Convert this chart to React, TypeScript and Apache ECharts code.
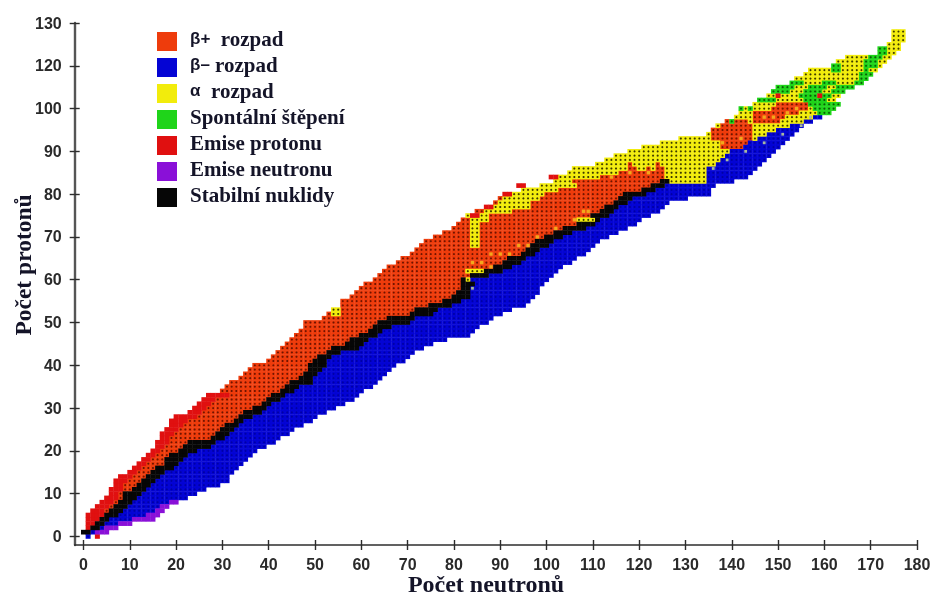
import React, { useEffect, useRef } from "react";
import * as echarts from "echarts";

// Row tables are indexed by the vertical axis position (proton row 0..118).
const rowFirstN = [1,0,1,1,1,1,2,3,4,5,6,6,7,7,8,10,11,12,13,14,15,16,16,17,17,18,19,19,20,23,24,25,26,27,30,31,32,34,35,36,37,40,41,42,43,44,45,46,47,48,48,52,53,54,56,56,58,59,60,61,63,64,65,66,68,69,71,72,73,74,76,78,80,81,82,83,85,87,89,90,92,95,99,102,103,105,106,111,113,115,118,121,125,129,135,136,137,139,141,142,143,145,147,148,150,151,153,154,156,157,162,163,165,172,173,174,175,175,175];
const rowLastN = [1,5,7,10,15,16,17,18,20,22,24,26,29,31,31,32,33,34,35,36,37,39,41,42,44,45,47,49,50,52,54,56,58,59,60,62,63,64,65,66,67,69,70,71,73,75,78,83,84,85,87,88,90,92,95,96,97,98,98,99,100,101,102,103,105,106,108,109,110,111,113,115,117,119,120,122,124,125,126,130,135,135,136,140,143,144,145,146,147,148,149,150,151,152,153,154,155,157,159,160,161,161,162,163,164,166,167,169,170,171,172,173,174,175,176,176,177,177,177];
const stableFirstN = [0,0,1,3,4,5,6,7,8,9,9,11,12,13,14,15,16,18,18,19,21,22,23,28,29,30,31,33,34,35,37,39,40,41,43,44,45,47,48,49,49,50,51,53,54,57,58,60,62,63,64,66,71,72,75,78,80,81,82,82,82,84,87,89,91,92,95,96,97,98,100,102,104,107,109,110,112,113,115,116,117,121,123,125];
const stableLastN = [0,1,3,4,5,7,8,9,10,11,12,13,14,15,16,17,19,20,21,22,24,27,28,30,31,32,33,34,36,38,39,40,42,43,45,46,49,49,50,51,52,52,53,55,59,60,61,63,64,66,70,71,75,76,79,81,83,83,83,84,83,87,90,92,94,95,97,98,100,101,103,105,108,110,111,113,114,115,117,118,121,123,125,126];
// rows 83..98: first column of the neutron-rich block above the stable line
const betaMinusFirstN = [135,135,135,135,137,138,139,140,143,144,146,148,150,153,156,158];

type Seg = [number, number, number]; // row, first N, last N
const alphaSegs: Seg[] = [
  [52,54,55],[53,54,55],[60,83,83],[62,83,86],[68,84,85],[69,84,85],[70,84,85],[71,84,85],[72,84,85],[73,84,85],[74,84,87],
  [75,83,87],[76,87,92],[77,88,96],[78,90,96],[79,91,98],[80,93,99],[81,95,102],[82,99,106],[83,102,105],[74,107,110],
];
const betaPlusSegs: Seg[] = [
  [84,112,125],[85,116,125],[86,118,119],[86,122,122],[86,124,125],[87,118,118],[87,124,124],
  [91,138,142],[92,138,143],[93,136,144],[94,136,144],[95,136,144],[96,138,144],[97,139,143],
  [97,145,150],[98,145,151],[99,145,154],[100,149,156],[101,150,156],
];
const protonSegs: Seg[] = [
  [0,3,3],[75,84,85],[77,87,88],[80,91,92],[82,94,95],[84,101,102],[103,150,150],[103,159,159],
  [2,1,1],[3,1,2],[4,1,3],[5,1,4],[6,2,4],[7,3,5],[8,4,6],[9,5,7],[10,6,7],[11,6,8],[12,7,8],[13,7,9],[14,8,10],[15,10,11],[16,11,12],[17,12,13],[18,13,14],[19,14,15],[20,15,16],[21,16,17],[22,16,18],[23,17,18],[24,17,19],[25,18,20],[26,19,21],[27,19,22],[28,20,24],[29,23,25],[30,24,26],[31,25,27],[32,26,28],[33,27,31],
];
const fissionSegs: Seg[] = [
  [97,140,140],[100,142,142],[100,144,144],[100,158,162],[99,159,161],[101,157,163],[102,146,149],[102,156,160],
  [103,155,161],[104,149,152],[104,156,159],[104,162,164],[105,150,153],[105,157,160],[105,163,166],[106,153,155],[106,160,162],
  [106,167,168],[107,168,169],[108,168,170],[109,162,163],[109,169,169],[110,162,163],[110,169,171],[111,169,171],[112,170,172],[113,172,173],[114,172,173],
];
const neutronSegs: Seg[] = [
  [1,3,5],[2,5,7],[3,8,10],[4,11,15],[5,14,16],[6,16,17],[7,17,18],[8,19,20],
];
const paleWarm: [number, number][] = [
  [84,64],[86,64],[88,63],[88,66],[90,66],[92,66],[94,68],[96,68],[98,70],[102,72],[106,74],[108,76],[109,76],
  [138,92],[142,93],[147,98],[149,98],[152,99],[154,100],[114,84],[118,85],[122,85],
];
const paleCool: [number, number][] = [
  [84,58],[136,86],[139,88],[143,90],[147,92],[151,94],[155,96],[157,98],
];

const xTickValues = [0,10,20,30,40,50,60,70,80,90,100,110,120,130,140,150,160,170,180];
const yTickPositions = [0,10,20,30,40,50,60,70,80,90,100,110,120];
const yTickLabels = ["0","10","20","30","40","50","60","70","80","90","100","120","130"];

const legendNames = ["β+ rozpad","β– rozpad","α rozpad","Spontální štěpení","Emise protonu","Emise neutronu","Stabilní nuklidy"];
const xTitle = "Počet neutronů";
const yTitle = "Počet protonů";

function buildCells() {
  const grid = new Map<string, number>();
  const put = (n: number, z: number, t: number) => grid.set(n + "," + z, t);
  rowFirstN.forEach((first, z) => {
    for (let n = first; n <= rowLastN[z]; n++) {
      let t: number;
      if (z <= 83 && n < stableFirstN[z]) t = 0;
      else if (z <= 83 && n <= stableLastN[z]) t = 6;
      else if (z < 83) t = 1;
      else if (z <= 98) t = n >= betaMinusFirstN[z - 83] ? 1 : 2;
      else t = 2;
      put(n, z, t);
    }
  });
  const apply = (segs: Seg[], t: number) => segs.forEach(([z, a, b]) => { for (let n = a; n <= b; n++) put(n, z, t); });
  apply(alphaSegs, 2);
  apply(betaPlusSegs, 0);
  apply(fissionSegs, 3);
  apply(protonSegs, 4);
  apply(neutronSegs, 5);
  const out: [number, number][][] = legendNames.map(() => []);
  grid.forEach((t, k) => { const [n, z] = k.split(",").map(Number); out[t].push([n, z]); });
  return out;
}

const swatchColors = ["#ee3c0c","#0404d4","#f2ec0c","#1fd41a","#e01010","#8a10d8","#060606"];
const dotColors = ["#6e1400","#0000a4","#3c3a00","#0c5a08"];
const SERIF = "'Liberation Serif', serif";
const SANS = "'Liberation Sans', sans-serif";

export default function App() {
  const ref = useRef<HTMLDivElement>(null);
  useEffect(() => {
    const chart = echarts.init(ref.current!, null, { renderer: "svg" });
    const cells = buildCells();
    const cellSeries = legendNames.map((name, i) => ({
      name, type: "scatter", symbol: "rect", symbolSize: [5, 4.7], data: cells[i], clip: false, z: 2,
      itemStyle: { color: swatchColors[i], opacity: 1 }, silent: true,
    }));
    const dotSeries = dotColors.map((c, i) => ({
      type: "scatter", symbol: "circle", symbolSize: 2.1, data: cells[i], clip: false, z: 3,
      itemStyle: { color: c, opacity: 1 }, silent: true,
    }));
    const tickAxisX = (inside: boolean) => ({
      type: "value", min: -1.9, max: 180, position: "bottom",
      axisLine: { show: !inside, onZero: false, lineStyle: { color: "#2c2c2c", width: 1.6 } },
      axisTick: { show: true, inside, length: 5, customValues: xTickValues, lineStyle: { color: "#2c2c2c", width: 1.4 } },
      axisLabel: { show: !inside, customValues: xTickValues, margin: 11, color: "#2a2a2a", fontFamily: SANS, fontSize: 16, fontWeight: "bold" },
      splitLine: { show: false },
    });
    const tickAxisY = (inside: boolean) => ({
      type: "value", min: -2, max: 120, position: "left",
      axisLine: { show: !inside, onZero: false, lineStyle: { color: "#555555", width: 2.4 } },
      axisTick: { show: true, inside, length: 5, customValues: yTickPositions, lineStyle: { color: "#2c2c2c", width: 1.4 } },
      axisLabel: {
        show: !inside, customValues: yTickPositions, margin: 13, color: "#2a2a2a", fontFamily: SANS, fontSize: 16, fontWeight: "bold",
        formatter: (v: number) => yTickLabels[yTickPositions.indexOf(v)],
      },
      splitLine: { show: false },
    });
    chart.setOption({
      animation: false,
      backgroundColor: "#ffffff",
      grid: { left: 74.7, right: 18, top: 23, bottom: 53 },
      xAxis: [tickAxisX(false), tickAxisX(true)],
      yAxis: [tickAxisY(false), tickAxisY(true)],
      legend: {
        orient: "vertical", left: 152, top: 23, itemWidth: 20, itemHeight: 19, itemGap: 0, icon: "rect", selectedMode: false,
        data: legendNames, itemStyle: { borderWidth: 0 },
        formatter: (name: string) => {
          if (name.startsWith("β+")) return "{g|β+}  rozpad";
          if (name.startsWith("β–")) return "{g|β–} rozpad";
          if (name.startsWith("α")) return "{g|α}  rozpad";
          return name;
        },
        textStyle: {
          color: "#141428", fontFamily: SERIF, fontWeight: "bold", fontSize: 21, lineHeight: 19, padding: [0, 0, 6, 8],
          rich: { g: { fontFamily: SANS, fontWeight: "bold", fontSize: 17, lineHeight: 19, color: "#141428" } },
        },
      },
      graphic: [
        { type: "text", x: 486, y: 584, silent: true, style: { text: xTitle, align: "center", verticalAlign: "middle", fill: "#141428", font: `bold 24px ${SERIF}` } },
        { type: "text", x: 23, y: 265, rotation: Math.PI / 2, silent: true, style: { text: yTitle, align: "center", verticalAlign: "middle", fill: "#141428", font: `bold 23.5px ${SERIF}` } },
      ],
      series: [
        ...cellSeries,
        ...dotSeries,
        { type: "scatter", symbol: "rect", symbolSize: 3.4, data: paleWarm, clip: false, z: 4, itemStyle: { color: "#f2a81c", opacity: 1 }, silent: true },
        { type: "scatter", symbol: "rect", symbolSize: 2.8, data: paleCool, clip: false, z: 4, itemStyle: { color: "#a8b8a0", opacity: 1 }, silent: true },
      ],
    });
    return () => chart.dispose();
  }, []);
  return <div ref={ref} style={{ position: "absolute", left: 0, top: 0, width: 935, height: 598, filter: "blur(0.45px)" }} />;
}
